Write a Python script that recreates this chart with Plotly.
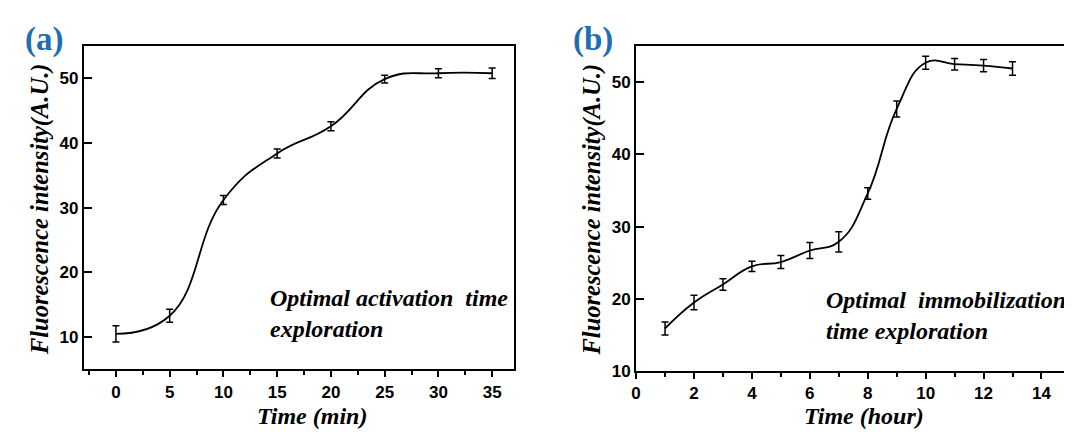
import plotly.graph_objects as go

W, H = 1072, 432

# Panel (a): activation time (min)
time_a = [0, 5, 10, 15, 20, 25, 30, 35]
fluor_a = [10.5, 13.3, 31.2, 38.4, 42.6, 49.9, 50.8, 50.8]
err_a = [1.25, 1.0, 0.7, 0.7, 0.7, 0.6, 0.7, 0.8]

# Panel (b): immobilization time (hour)
time_b = [1, 2, 3, 4, 5, 6, 7, 8, 9, 10, 11, 12, 13]
fluor_b = [15.9, 19.5, 22.0, 24.5, 25.1, 26.7, 27.9, 34.6, 46.3, 52.7, 52.5, 52.3, 51.9]
err_b = [0.9, 1.0, 0.8, 0.7, 0.9, 1.1, 1.4, 0.8, 1.1, 0.9, 0.8, 0.85, 0.95]

ticks_a_x = [0, 5, 10, 15, 20, 25, 30, 35]
ticks_a_y = [10, 20, 30, 40, 50]
ticks_b_x = [0, 2, 4, 6, 8, 10, 12, 14]
ticks_b_y = [10, 20, 30, 40, 50]

def px(x):
    return x / W

def py(y):
    return 1 - y / H

fig = go.Figure()

fig.add_trace(go.Scatter(
    x=time_a, y=fluor_a, mode="lines",
    line=dict(color="black", width=1.8, shape="spline", smoothing=1.3),
    error_y=dict(type="data", array=err_a, visible=True, color="black", thickness=1.5, width=3.5),
    xaxis="x", yaxis="y", showlegend=False, hoverinfo="skip"))

fig.add_trace(go.Scatter(
    x=time_b, y=fluor_b, mode="lines",
    line=dict(color="black", width=1.8, shape="spline", smoothing=1.3),
    error_y=dict(type="data", array=err_b, visible=True, color="black", thickness=1.5, width=3.5),
    xaxis="x2", yaxis="y2", showlegend=False, hoverinfo="skip"))

tickfont = dict(family="Liberation Sans", size=17, color="black", weight="bold")
common = dict(showgrid=False, zeroline=False, showline=True, linecolor="black",
              linewidth=1.8, tickcolor="black", tickwidth=1.5, tickfont=tickfont)

fig.update_layout(
    width=W, height=H,
    margin=dict(l=0, r=0, t=0, b=0),
    paper_bgcolor="white", plot_bgcolor="white",
    xaxis=dict(domain=[px(71), px(503)], range=[-3, 37], tickvals=ticks_a_x,
               ticks="outside", ticklen=6, mirror=True, anchor="y",
               minor=dict(ticks="outside", ticklen=4, tick0=0, dtick=2.5,
                          tickcolor="black", tickwidth=1.5),
               **common),
    yaxis=dict(domain=[py(370), py(39)], range=[5, 55], tickvals=ticks_a_y,
               ticks="inside", ticklen=8, mirror=True, anchor="x", **common),
    xaxis2=dict(domain=[px(626), 1.0], range=[0, 15.33], tickvals=ticks_b_x,
                ticks="outside", ticklen=6, mirror=True, anchor="y2",
                minor=dict(ticks="outside", ticklen=4, tick0=0, dtick=1,
                           tickcolor="black", tickwidth=1.5),
                **common),
    yaxis2=dict(domain=[py(371.7), py(39)], range=[10, 55], tickvals=ticks_b_y,
                ticks="inside", ticklen=8, mirror=False, anchor="x2", **common),
)

serif = "Liberation Serif, Times New Roman, serif"
blue = "#1f6db3"
ann = []
# panel letters
ann.append(dict(text="(a)", x=px(31), y=py(32), xref="paper", yref="paper",
                xanchor="center", yanchor="middle", showarrow=False,
                font=dict(family=serif, size=33, color=blue, weight="bold")))
ann.append(dict(text="(b)", x=px(583), y=py(32), xref="paper", yref="paper",
                xanchor="center", yanchor="middle", showarrow=False,
                font=dict(family=serif, size=33, color=blue, weight="bold")))
# axis titles
ttl = dict(family=serif, size=24, color="black", weight="bold", style="italic")
ann.append(dict(text="Time (min)", x=px(300), y=py(418), xref="paper", yref="paper",
                xanchor="center", yanchor="middle", showarrow=False, font=ttl))
ann.append(dict(text="Time (hour)", x=px(855), y=py(418), xref="paper", yref="paper",
                xanchor="center", yanchor="middle", showarrow=False, font=ttl))
ytl = dict(family=serif, size=24.5, color="black", weight="bold", style="italic")
ann.append(dict(text="Fluorescence intensity(A.U.)", x=px(27), y=py(206),
                xref="paper", yref="paper", xanchor="center", yanchor="middle",
                showarrow=False, textangle=-90, font=ytl))
ann.append(dict(text="Fluorescence intensity(A.U.)", x=px(582), y=py(206),
                xref="paper", yref="paper", xanchor="center", yanchor="middle",
                showarrow=False, textangle=-90, font=ytl))
# inset notes
note = dict(family=serif, size=24, color="black", weight="bold", style="italic")
ann.append(dict(text="Optimal activation\u00a0 time<br>exploration",
                x=px(256), y=py(313), xref="paper", yref="paper", xanchor="left",
                yanchor="middle", align="left", showarrow=False, font=note))
ann.append(dict(text="Optimal\u00a0 immobilization<br>time exploration",
                x=px(815), y=py(315), xref="paper", yref="paper", xanchor="left",
                yanchor="middle", align="left", showarrow=False, font=note))
fig.update_layout(annotations=ann)

fig.write_html("out.html")
